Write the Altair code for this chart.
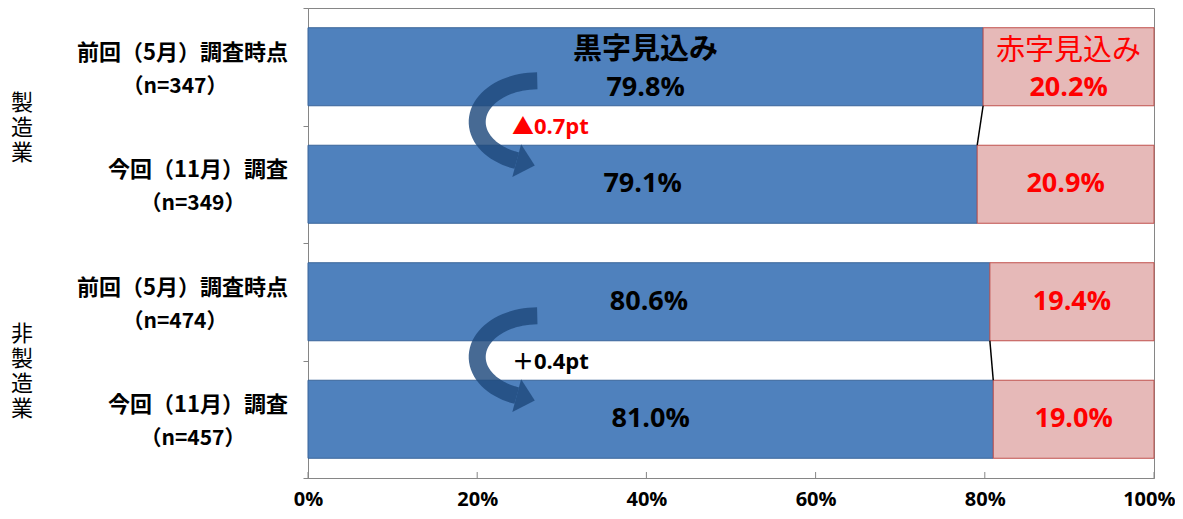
import altair as alt
import pandas as pd
import numpy as np

# ---------------- data ----------------
row_line1 = ["前回（5月）調査時点", "今回（11月）調査", "前回（5月）調査時点", "今回（11月）調査"]
row_line2 = ["（n=347）", "（n=349）", "（n=474）", "（n=457）"]
row_kind = ["前回", "今回", "前回", "今回"]
groups = ["製\n造\n業", "非\n製\n造\n業"]
kuroji = [79.8, 79.1, 80.6, 81.0]
akaji = [20.2, 20.9, 19.4, 19.0]
series_names = ["黒字見込み", "赤字見込み"]
changes = ["▲0.7pt", "＋0.4pt"]
x_ticks = [0, 20, 40, 60, 80, 100]

HALF = 0.332  # half bar thickness in row units

# ---------------- tables ----------------
bar_rows = []
for i in range(4):
    bar_rows.append(dict(idx=i, seg=series_names[0], x0=0.0, x1=kuroji[i], val=kuroji[i]))
    bar_rows.append(dict(idx=i, seg=series_names[1], x0=kuroji[i], x1=kuroji[i] + akaji[i], val=akaji[i]))
bars_df = pd.DataFrame(bar_rows)

rows_df = pd.DataFrame(dict(idx=list(range(4)), l1=row_line1, l2=row_line2, kind=row_kind))
groups_df = pd.DataFrame(dict(g=[0, 1], name=groups))
conn_df = pd.DataFrame(dict(
    g=[0, 1],
    xa=[kuroji[0], kuroji[2]],
    xb=[kuroji[1], kuroji[3]],
))
ann_df = pd.DataFrame(dict(g=[0, 1], text=changes))
ticks_df = pd.DataFrame(dict(t=x_ticks))

# curved arrow geometry (decoration)
arc_pts = []
head_pts = []
for g in range(2):
    cx, cy, rx, ry = 27.1, 2 * g + 1 - 0.03, 7.1, 0.35
    for k, th in enumerate(np.linspace(90, 250, 41)):
        t = np.radians(th)
        arc_pts.append(dict(g=g, i=k, x=cx + rx * np.cos(t), y=cy - ry * np.sin(t)))
    t = np.radians(250)
    head_pts.append(dict(g=g, x=cx + rx * np.cos(t), y=cy - ry * np.sin(t)))
arc_df = pd.DataFrame(arc_pts)
head_df = pd.DataFrame(head_pts)

# ---------------- scales / axes ----------------
xscale = alt.Scale(domain=[0, 100], nice=False, zero=False)
yscale = alt.Scale(domain=[0, 4], reverse=True, nice=False, zero=False)
xaxis = alt.Axis(values=x_ticks, labelExpr="datum.value + '%'", ticks=False, grid=False,
                 domainColor="#868686", labelFontSize=20, labelFontWeight="bold",
                 labelFont="Open Sans", labelColor="#000000", labelPadding=21,
                 labelBaseline="middle", labelFlush=False, title=None,
                 labelAlign={"condition": {"test": "datum.value == 100", "value": "right"},
                             "value": "center"},
                 labelOffset={"condition": {"test": "datum.value == 100", "value": 21},
                              "value": 0})
yaxis = alt.Axis(values=[0, 1, 2, 3, 4], labels=False, tickSize=5, tickColor="#868686",
                 domainColor="#868686", grid=False, title=None)

CJK = "Noto Sans CJK JP"
NUM = "Open Sans, Noto Sans CJK JP"

is_red = alt.datum.seg == series_names[1]

bars = alt.Chart(bars_df).transform_calculate(
    yt=f"datum.idx + 0.5 - {HALF}", yb=f"datum.idx + 0.5 + {HALF}"
).mark_rect(strokeWidth=1).encode(
    x=alt.X("x0:Q", scale=xscale, axis=xaxis),
    x2="x1:Q",
    y=alt.Y("yt:Q", scale=yscale, axis=yaxis),
    y2="yb:Q",
    fill=alt.condition(is_red, alt.value("#E6B9B8"), alt.value("#4F81BD")),
    stroke=alt.condition(is_red, alt.value("#C0504D"), alt.value("#3A659A")),
)

inner_ticks = alt.Chart(ticks_df).mark_rule(color="#868686", strokeWidth=1).encode(
    x=alt.X("t:Q", scale=xscale), y=alt.value(464), y2=alt.value(470)
)

connectors = alt.Chart(conn_df).transform_calculate(
    ya=f"2 * datum.g + 0.5 + {HALF}", yb=f"2 * datum.g + 1.5 - {HALF}"
).mark_rule(color="#000000", strokeWidth=1.5).encode(
    x=alt.X("xa:Q", scale=xscale), x2="xb:Q",
    y=alt.Y("ya:Q", scale=yscale), y2="yb:Q",
)

arrow_body = alt.Chart(arc_df).mark_line(
    color="#1F497D", strokeWidth=17, strokeCap="butt", opacity=0.82
).encode(
    x=alt.X("x:Q", scale=xscale), y=alt.Y("y:Q", scale=yscale),
    detail="g:N", order="i:Q",
)
arrow_head = alt.Chart(head_df).mark_point(
    shape="M0,-1L1.1,0L0,1Z", size=1156, angle=15, filled=True,
    color="#1F497D", opacity=0.82, strokeWidth=0,
).encode(x=alt.X("x:Q", scale=xscale), y=alt.Y("y:Q", scale=yscale))

val_text = alt.Chart(bars_df).transform_calculate(
    xm="(datum.x0 + datum.x1) / 2",
    yl="datum.idx + 0.5 + (datum.idx == 0 ? 0.18 : 0)",
    lab="format(datum.val, '.1f') + '%'",
).mark_text(font=NUM, fontSize=27, fontWeight="bold", baseline="middle", align="center").encode(
    x=alt.X("xm:Q", scale=xscale), y=alt.Y("yl:Q", scale=yscale), text="lab:N",
    color=alt.condition(is_red, alt.value("#FF0000"), alt.value("#000000")),
)

head_black = alt.Chart(bars_df).transform_filter(
    (alt.datum.idx == 0) & (alt.datum.seg == series_names[0])
).transform_calculate(xm="(datum.x0 + datum.x1) / 2", yl="0.5").mark_text(
    font=CJK, fontSize=29, fontWeight="bold", color="#000000", baseline="middle", dy=-17
).encode(x=alt.X("xm:Q", scale=xscale), y=alt.Y("yl:Q", scale=yscale), text="seg:N")

head_red = alt.Chart(bars_df).transform_filter(
    (alt.datum.idx == 0) & (alt.datum.seg == series_names[1])
).transform_calculate(xm="(datum.x0 + datum.x1) / 2", yl="0.5").mark_text(
    font=CJK, fontSize=29, fontWeight="normal", color="#FF0000", baseline="middle", dy=-16
).encode(x=alt.X("xm:Q", scale=xscale), y=alt.Y("yl:Q", scale=yscale), text="seg:N")

ann_text = alt.Chart(ann_df).transform_calculate(yb="2 * datum.g + 1").mark_text(
    font=NUM, fontSize=22, fontWeight="bold", align="left", baseline="middle", dy=1
).encode(
    x=alt.datum(24.1, scale=xscale), y=alt.Y("yb:Q", scale=yscale), text="text:N",
    color=alt.condition(alt.datum.g == 0, alt.value("#FF0000"), alt.value("#000000")),
)

row_l1 = alt.Chart(rows_df).transform_calculate(yc="datum.idx + 0.5").mark_text(
    font=CJK, fontSize=22, fontWeight="bold", align="right", baseline="middle",
    color="#000000", dy=-14,
).encode(x=alt.value(-20), y=alt.Y("yc:Q", scale=yscale), text="l1:N")

row_l2a = alt.Chart(rows_df).transform_filter(alt.datum.kind == "前回").transform_calculate(
    yc="datum.idx + 0.5").mark_text(
    font=CJK, fontSize=21, fontWeight="bold", align="center", baseline="middle",
    color="#000000", dy=20,
).encode(x=alt.value(-133), y=alt.Y("yc:Q", scale=yscale), text="l2:N")

row_l2b = alt.Chart(rows_df).transform_filter(alt.datum.kind == "今回").transform_calculate(
    yc="datum.idx + 0.5").mark_text(
    font=CJK, fontSize=21, fontWeight="bold", align="center", baseline="middle",
    color="#000000", dy=20,
).encode(x=alt.value(-115), y=alt.Y("yc:Q", scale=yscale), text="l2:N")

group_a = alt.Chart(groups_df).transform_filter(alt.datum.g == 0).transform_calculate(
    yc="2 * datum.g + 1").mark_text(
    font=CJK, fontSize=22, align="center", baseline="middle", lineBreak="\n",
    lineHeight=25, color="#000000", dy=-23,
).encode(x=alt.value(-286), y=alt.Y("yc:Q", scale=yscale), text="name:N")

group_b = alt.Chart(groups_df).transform_filter(alt.datum.g == 1).transform_calculate(
    yc="2 * datum.g + 1").mark_text(
    font=CJK, fontSize=22, align="center", baseline="middle", lineBreak="\n",
    lineHeight=25, color="#000000", dy=-27,
).encode(x=alt.value(-286), y=alt.Y("yc:Q", scale=yscale), text="name:N")

chart = alt.layer(
    bars, inner_ticks, connectors, arrow_body, arrow_head, val_text, head_black, head_red,
    ann_text, row_l1, row_l2a, row_l2b, group_a, group_b,
).properties(
    width=846, height=470,
    autosize=alt.AutoSizeParams(type="none"),
    padding={"left": 300, "top": 0, "right": 21, "bottom": 33},
).configure_view(stroke="#868686", strokeWidth=1)

chart.save("out.html", embed_options={"renderer": "svg", "actions": False})
